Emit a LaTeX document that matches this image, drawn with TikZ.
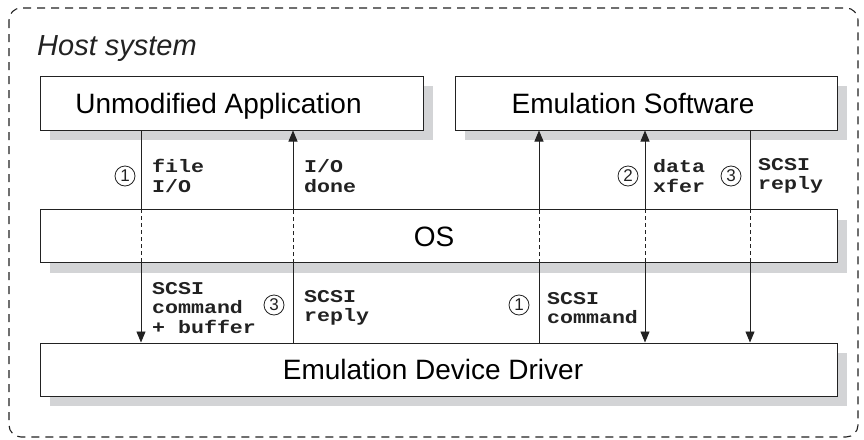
\documentclass[tikz,border=0pt]{standalone}
\usepackage{fontspec}
\setmainfont{Liberation Sans}
\newfontfamily\lblfont[FakeStretch=1.2]{Liberation Mono}
\usetikzlibrary{arrows.meta,shadows}
\definecolor{shadowgray}{HTML}{D3D4D6}
\definecolor{inkc}{HTML}{222222}
\tikzset{
  box/.style={draw=inkc, line width=1pt, fill=white, inner sep=0pt,
    font=\fontsize{28}{32}\selectfont, text height=20pt, text depth=0pt,
    general shadow={fill=shadowgray, shadow xshift=10pt, shadow yshift=-10pt}},
  lbl/.style={font=\lblfont\bfseries\fontsize{18}{19.5}\selectfont, align=left,
    anchor=west, inner sep=0pt, text=inkc},
  num/.style={circle, draw=inkc, line width=0.8pt, minimum size=20pt, inner sep=0pt,
    font=\fontsize{17}{17}\selectfont, text=inkc},
  conn/.style={draw=inkc, line width=0.9pt},
  inos/.style={draw=inkc, line width=0.9pt, dash pattern=on 4pt off 3pt},
  arr/.style={-{Triangle[length=11pt,width=9pt]}},
  rarr/.style={{Triangle[length=11pt,width=9pt]}-},
  outer/.style={draw=inkc, line width=1.1pt, dash pattern=on 8pt off 6pt, rounded corners=12pt}
}
\begin{document}
\begin{tikzpicture}[x=1pt,y=-1pt]
\useasboundingbox (0,0) rectangle (864,439);
\draw[outer] (9,8) rectangle (858,437);
\node[anchor=base west, inner sep=0pt, font=\itshape\fontsize{29}{34}\selectfont, text=inkc] (title) at (37,55) {Host system};

\node[box, minimum width=383pt, minimum height=54pt] (ua) at (231.5,103) {Unmodified Application\kern26pt};
\node[box, minimum width=382pt, minimum height=54pt] (es) at (646,103) {Emulation Software\kern26pt};
\node[box, minimum width=797pt, minimum height=53pt] (os) at (438.5,236) {OS\kern9pt};
\node[box, minimum width=797pt, minimum height=53pt] (edd) at (438.5,369.5) {Emulation Device Driver\kern11pt};

\coordinate (c1) at (141,0);
\coordinate (c2) at (293,0);
\coordinate (c3) at (539,0);
\coordinate (c4) at (645,0);
\coordinate (c5) at (750,0);

% column 1: file I/O down
\draw[conn] (c1 |- ua.south) -- (c1 |- os.north);
\draw[inos] (c1 |- os.north) -- (c1 |- os.south);
\draw[conn,arr] (c1 |- os.south) -- (c1 |- edd.north);
% column 2: I/O done up
\draw[conn] (c2 |- edd.north) -- (c2 |- os.south);
\draw[inos] (c2 |- os.south) -- (c2 |- os.north);
\draw[conn,arr] (c2 |- os.north) -- (c2 |- ua.south);
% column 3: SCSI command up
\draw[conn] (c3 |- edd.north) -- (c3 |- os.south);
\draw[inos] (c3 |- os.south) -- (c3 |- os.north);
\draw[conn,arr] (c3 |- os.north) -- (c3 |- es.south);
% column 4: data xfer both ways
\draw[conn,rarr] (c4 |- es.south) -- (c4 |- os.north);
\draw[inos] (c4 |- os.north) -- (c4 |- os.south);
\draw[conn,arr] (c4 |- os.south) -- (c4 |- edd.north);
% column 5: SCSI reply down
\draw[conn] (c5 |- es.south) -- (c5 |- os.north);
\draw[inos] (c5 |- os.north) -- (c5 |- os.south);
\draw[conn,arr] (c5 |- os.south) -- (c5 |- edd.north);

% upper labels
\node[num] (n1a) at (125,176) {1};
\node[lbl] (l1) at (152,176) {file\\I/O};
\node[lbl] (l2) at (304,176) {I/O\\done};
\node[num] (n2) at (628,176) {2};
\node[lbl] (l3) at (653,176) {data\\xfer};
\node[num] (n3a) at (731,176) {3};
\node[lbl] (l4) at (758,176) {SCSI\\reply};

% lower labels
\node[lbl] (l5) at (152,308) {SCSI\\command\\+ buffer};
\node[num] (n3b) at (274,305) {3};
\node[lbl] (l6) at (304,308) {SCSI\\reply};
\node[num] (n1b) at (519,305) {1};
\node[lbl] (l7) at (547,308) {SCSI\\command};
\end{tikzpicture}
\end{document}
